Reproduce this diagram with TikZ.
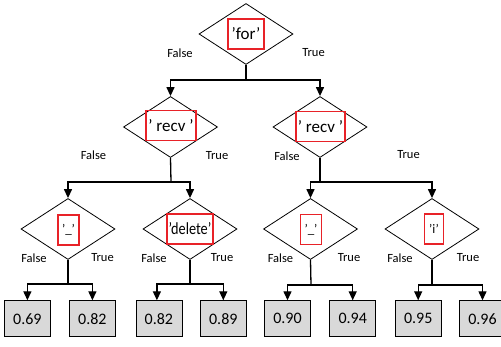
\documentclass[tikz,border=0pt]{standalone}
\usepackage{fontspec}
\setmainfont{Carlito}
\usetikzlibrary{shapes.geometric,arrows.meta}
\definecolor{keyred}{RGB}{232,34,40}
\definecolor{leafgray}{RGB}{217,217,217}
\begin{document}
\begin{tikzpicture}[x=1pt,y=-1pt]
    \useasboundingbox (0,0) rectangle (501,347);
    \clip (0,0) rectangle (501,347);

    \tikzstyle{test}=[diamond,draw=black,line width=0.8pt,minimum width=94pt,minimum height=61pt,inner sep=0pt]
    \tikzstyle{key}=[draw=keyred,line width=1.7pt,minimum height=30pt,inner sep=1pt,font=\fontsize{17}{17}\selectfont]
    \tikzstyle{leaf}=[draw=black,line width=0.8pt,fill=leafgray,minimum width=46pt,minimum height=36pt,font=\fontsize{16}{16}\selectfont]
    \tikzstyle{branch}=[inner sep=0pt,font=\fontsize{12.5}{12.5}\selectfont]

    % tests
    \node[test]  (for) at (246,34) {};
    \node[test]  (recvl) at (170.5,127) {};
    \node[test]  (recvr) at (320,127) {};
    \node[test]  (undl) at (68,229) {};
    \node[test]  (del) at (190,229) {};
    \node[test]  (undr) at (310.5,229) {};
    \node[test]  (ii) at (432,229) {};

    % keys
    \node[key,minimum width=36pt]  (kfor) at (246,34) {'for'};
    \node[key,minimum width=50pt]  (krecvl) at (171,125.5) {' recv '};
    \node[key,minimum width=49pt]  (krecvr) at (320.5,126.5) {' recv '};
    \node[key,minimum width=21pt,font=\fontsize{13}{13}\selectfont]  (kundl) at (68.5,230) {'\_'};
    \node[key,minimum width=46pt]  (kdel) at (190,229) {\scalebox{0.84}[1]{'delete'}};
    \node[key,minimum width=21pt,font=\fontsize{13}{13}\selectfont]  (kundr) at (311,229.5) {'\_'};
    \node[key,minimum width=19pt,font=\fontsize{13}{13}\selectfont]  (kii) at (434,229) {'i'};

    % branch labels
    \node[branch] (f1) at (180,53) {False};
    \node[branch] (t1) at (313.5,53) {True};
    \node[branch] (f2) at (93.5,155) {False};
    \node[branch] (t2) at (217,156) {True};
    \node[branch] (f3) at (287,156) {False};
    \node[branch] (t3) at (408.5,155) {True};
    \node[branch] (f4) at (34,258) {False};
    \node[branch] (t4) at (102.5,258) {True};
    \node[branch] (f5) at (154,258) {False};
    \node[branch] (t5) at (222,258) {True};
    \node[branch] (f6) at (280.5,258) {False};
    \node[branch] (t6) at (349,258) {True};
    \node[branch] (f7) at (400,258) {False};
    \node[branch] (t7) at (468,258) {True};

    % leaves
    \node[leaf]  (s1) at (27.4,318.7) {0.69};
    \node[leaf]  (s2) at (92.4,318.7) {0.82};
    \node[leaf]  (s3) at (158.9,318.7) {0.82};
    \node[leaf]  (s4) at (223.3,318.7) {0.89};
    \node[leaf]  (s5) at (287.5,318.7) {0.90};
    \node[leaf]  (s6) at (352.7,318.7) {0.94};
    \node[leaf]  (s7) at (418.2,318.7) {0.95};
    \node[leaf]  (s8) at (482.5,318.7) {0.96};

    \coordinate (jfor) at (246,80);
    \coordinate (jrecvl) at (171,182);
    \coordinate (jrecvr) at (320,182);
    \coordinate (jundl) at (68,284);
    \coordinate (jdel) at (190,284);
    \coordinate (jundr) at (311,285);
    \coordinate (jii) at (432,285);

    \tikzstyle{stem} = [draw=black, line width=1.3pt]
    \tikzstyle{fwd} = [draw=black, line width=1.3pt, -{Triangle[width=8pt,length=9pt]}]

          \draw [stem] (for.south) -- (jfor);
          \draw [fwd] (jfor) -| (recvl.north);
          \draw [fwd] (jfor) -| (recvr.north);
          \draw [stem] (recvl.south) -- (jrecvl);
          \draw [fwd] (jrecvl) -| (undl.north);
          \draw [fwd] (jrecvl) -| (del.north);
          \draw [stem] (recvr.south) -- (jrecvr);
          \draw [fwd] (jrecvr) -| (undr.north);
          \draw [fwd] (jrecvr) -| (ii.north);
          \draw [stem] (undl.south) -- (jundl);
          \draw [fwd] (jundl) -| (s1.north);
          \draw [fwd] (jundl) -| (s2.north);
          \draw [stem] (del.south) -- (jdel);
          \draw [fwd] (jdel) -| ([xshift=-2pt]s3.north);
          \draw [fwd] (jdel) -| (s4.north);
          \draw [stem] (undr.south) -- (jundr);
          \draw [fwd] (jundr) -| (s5.north);
          \draw [fwd] (jundr) -| (s6.north);
          \draw [stem] (ii.south) -- (jii);
          \draw [fwd] (jii) -| (s7.north);
          \draw [fwd] (jii) -| (s8.north);
  \end{tikzpicture}
\end{document}
